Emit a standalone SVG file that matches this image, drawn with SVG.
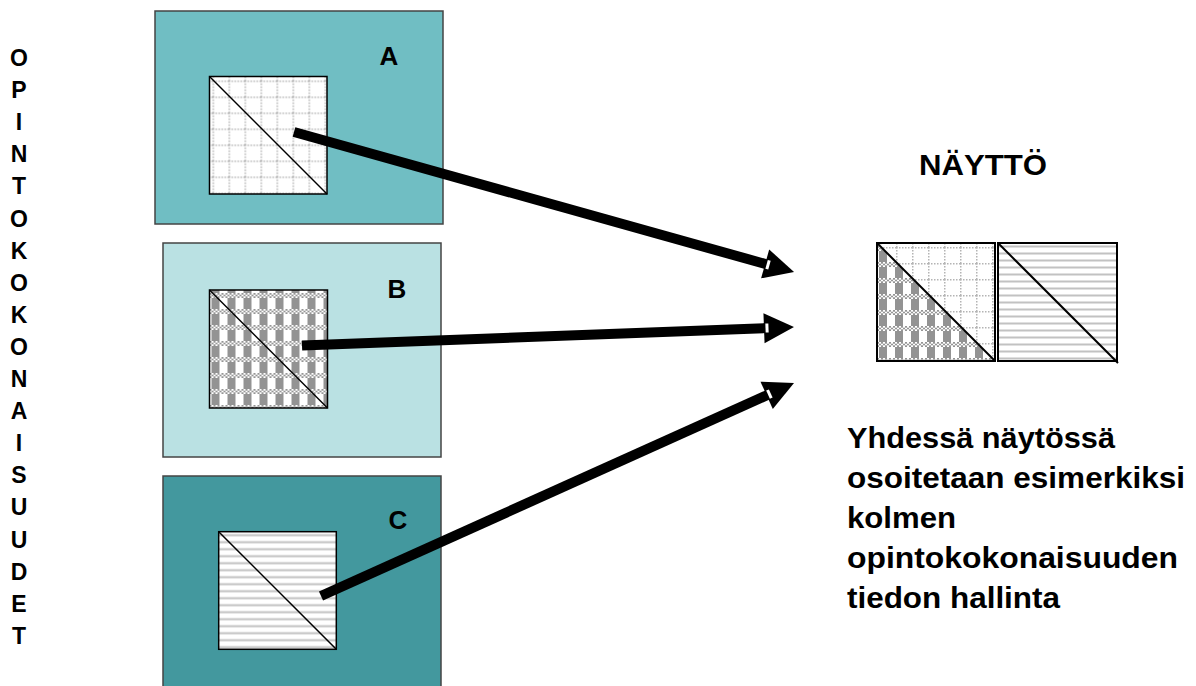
<svg xmlns="http://www.w3.org/2000/svg" width="1196" height="686" viewBox="0 0 1196 686">
<style>
.box{stroke:#444;stroke-width:1.5}
.sq{stroke:#000;stroke-width:1.5}
.dsq{fill:none;stroke:#000;stroke-width:2}
.diag{stroke:#000;stroke-width:1.5}
.lbl{font-family:"Liberation Sans",Arial,sans-serif;font-weight:bold;fill:#000}
.conn{stroke:#000;stroke-width:10;fill:none;marker-end:url(#head)}
</style>
<defs>
<pattern id="pGrid" patternUnits="userSpaceOnUse" width="16" height="16" x="3" y="4">
<rect width="16" height="16" fill="#fff"/>
<path d="M0.75,0 V16" stroke="#b4b4b4" stroke-width="1.5" stroke-dasharray="1.5 1.5"/>
<path d="M0,0.75 H16" stroke="#b4b4b4" stroke-width="1.5" stroke-dasharray="1.5 1.5"/>
</pattern>
<pattern id="pPlaid" patternUnits="userSpaceOnUse" width="16" height="16" x="0" y="3">
<rect width="16" height="16" fill="#fff"/>
<rect x="2" y="5" width="8" height="11" fill="#939393"/>
<g fill="#959595">
<rect x="0" y="0" width="2" height="1.7"/><rect x="4" y="0" width="2" height="1.7"/><rect x="8" y="0" width="2" height="1.7"/><rect x="12" y="0" width="2" height="1.7"/>
<rect x="2" y="1.7" width="2" height="1.6"/><rect x="6" y="1.7" width="2" height="1.6"/><rect x="10" y="1.7" width="2" height="1.6"/><rect x="14" y="1.7" width="2" height="1.6"/>
<rect x="0" y="3.3" width="2" height="1.7"/><rect x="4" y="3.3" width="2" height="1.7"/><rect x="8" y="3.3" width="2" height="1.7"/><rect x="12" y="3.3" width="2" height="1.7"/>
</g>
</pattern>
<pattern id="pLines" patternUnits="userSpaceOnUse" width="7" height="7">
<rect width="7" height="7" fill="#fff"/>
<rect y="2.5" width="7" height="2" fill="#c2c2c2"/>
</pattern>
<marker id="head" markerUnits="userSpaceOnUse" markerWidth="30" markerHeight="30" viewBox="0 0 30 30" refX="4" refY="15" orient="auto" overflow="visible">
<path d="M0,0 L30,15 L0,30 Z" fill="#000"/>
<rect x="1.5" y="10.5" width="3" height="9" fill="#fff"/>
</marker>
</defs>

<g id="side-label" class="lbl" font-size="23" text-anchor="middle">
<text x="19" y="66">O</text>
<text x="19" y="98.1">P</text>
<text x="19" y="130.2">I</text>
<text x="19" y="162.3">N</text>
<text x="19" y="194.4">T</text>
<text x="19" y="226.5">O</text>
<text x="19" y="258.6">K</text>
<text x="19" y="290.7">O</text>
<text x="19" y="322.8">K</text>
<text x="19" y="354.9">O</text>
<text x="19" y="387">N</text>
<text x="19" y="419.1">A</text>
<text x="19" y="451.2">I</text>
<text x="19" y="483.3">S</text>
<text x="19" y="515.4">U</text>
<text x="19" y="547.5">U</text>
<text x="19" y="579.6">D</text>
<text x="19" y="611.7">E</text>
<text x="19" y="643.8">T</text>
</g>

<g id="node-A">
<rect class="box" x="155" y="11" width="288" height="213" fill="#70bec3"/>
<g transform="translate(209.5,76.5)">
<rect class="sq" width="117.5" height="117.5" fill="url(#pGrid)"/>
<line class="diag" x1="0" y1="0" x2="117.5" y2="117.5"/>
</g>
<text class="lbl" x="389" y="65" font-size="26" text-anchor="middle">A</text>
</g>

<g id="node-B">
<rect class="box" x="163" y="243" width="278" height="214" fill="#bae1e3"/>
<g transform="translate(209.5,290)">
<rect class="sq" width="118" height="118" fill="url(#pPlaid)"/>
<line class="diag" x1="0" y1="0" x2="118" y2="118"/>
</g>
<text class="lbl" x="397" y="298" font-size="26" text-anchor="middle">B</text>
</g>

<g id="node-C">
<rect class="box" x="163" y="476" width="278" height="215" fill="#43989e"/>
<g transform="translate(218.7,531.7)">
<rect class="sq" width="117.6" height="117.6" fill="url(#pLines)"/>
<line class="diag" x1="0" y1="0" x2="117.6" y2="117.6"/>
</g>
<text class="lbl" x="398" y="529" font-size="26" text-anchor="middle">C</text>
</g>

<g id="node-display">
<text class="lbl" x="983" y="175" font-size="30" text-anchor="middle" textLength="128" lengthAdjust="spacingAndGlyphs">NÄYTTÖ</text>
<g transform="translate(877,243)">
<rect width="118" height="118" fill="url(#pGrid)"/>
<polygon points="0,0 0,118 118,118" fill="url(#pPlaid)"/>
<rect class="dsq" width="118" height="118"/>
<line x1="0" y1="0" x2="118" y2="118" stroke="#000" stroke-width="2"/>
</g>
<g transform="translate(998,243)">
<rect width="119" height="118" fill="url(#pLines)"/>
<rect class="dsq" width="119" height="118"/>
<line x1="0" y1="0" x2="120" y2="120" stroke="#000" stroke-width="2"/>
</g>
</g>

<g id="note" class="lbl" font-size="30">
<text x="847" y="448" textLength="268" lengthAdjust="spacingAndGlyphs">Yhdessä näytössä</text>
<text x="847" y="488" textLength="338" lengthAdjust="spacingAndGlyphs">osoitetaan esimerkiksi</text>
<text x="847" y="528" textLength="109" lengthAdjust="spacingAndGlyphs">kolmen</text>
<text x="847" y="568" textLength="331" lengthAdjust="spacingAndGlyphs">opintokokonaisuuden</text>
<text x="847" y="608" textLength="213" lengthAdjust="spacingAndGlyphs">tiedon hallinta</text>
</g>

<g id="connectors">
<line class="conn" x1="294" y1="132" x2="769" y2="265"/>
<line class="conn" x1="302" y1="345.5" x2="768" y2="328"/>
<line class="conn" x1="321" y1="596" x2="770.3" y2="393.7"/>
</g>
</svg>
